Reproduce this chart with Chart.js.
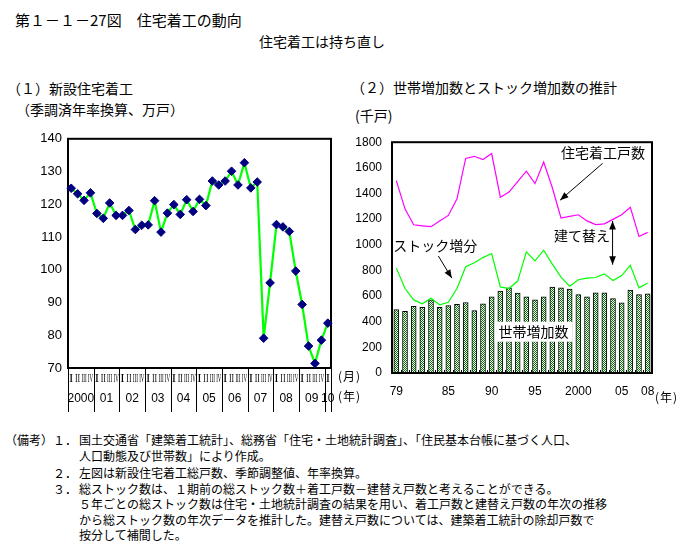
<!DOCTYPE html>
<html><head><meta charset="utf-8">
<script src="https://cdn.jsdelivr.net/npm/chart.js@4.4.1/dist/chart.umd.min.js"></script>
<style>
body{margin:0;background:#fff;}
#wrap{position:relative;width:691px;height:551px;overflow:hidden;font-family:"Noto Sans CJK JP",sans-serif;color:#000;background:#fff;}
.t{position:absolute;white-space:nowrap;line-height:1;}
canvas{position:absolute;}
</style></head><body><div id="wrap">
<canvas id="c1" width="310" height="290" style="left:30px;top:125px;"></canvas>
<canvas id="c2" width="341" height="290" style="left:350px;top:125px;"></canvas>
</div>
<script>
// ---------- data: left chart (quarterly, 2000Q1 - 2010Q1) ----------
const quarterYears = ['2000','01','02','03','04','05','06','07','08','09','10'];
const quarterNames = ['I','II','III','IV'];
const housingStartsQ = [124.9,123.2,121.2,123.5, 117.2,115.7,120.4,116.6, 116.6,118.1,112.3,113.6,
  113.7,121.1,111.5,117.3, 119.9,116.9,121.4,117.8, 121.5,119.6,127.1,125.9, 127.1,130.1,125.9,132.7,
  125.0,126.8,79.1,96.0, 113.8,113.1,111.7,99.6, 89.4,76.7,71.4,78.5, 83.7];

// ---------- data: right chart (annual, 1979 - 2008, thousand units) ----------
const stockYears = [1979,1980,1981,1982,1983,1984,1985,1986,1987,1988,1989,1990,1991,1992,1993,
  1994,1995,1996,1997,1998,1999,2000,2001,2002,2003,2004,2005,2006,2007,2008];
const householdIncrease = [494,481,519,512,570,512,525,535,550,487,540,595,639,664,624,
  595,570,595,671,664,654,611,595,626,626,580,548,646,611,618];
const housingStartsA = [1500,1280,1156,1148,1141,1186,1229,1358,1673,1690,1665,1711,1371,1411,1493,
  1574,1477,1645,1445,1209,1221,1234,1186,1158,1163,1198,1234,1293,1065,1097];
const stockIncrease = [818,659,570,540,583,532,552,659,829,860,900,932,671,659,717,
  945,874,958,849,748,677,727,740,745,773,722,760,840,664,702];
const tickYears = [1979,1985,1990,1995,2000,2005,2008];
const tickText  = ['79','85','90','95','2000','05','08'];

// ---------- static texts ----------
const texts = [
  ['第１－１－27図　住宅着工の動向', 15, 15, 20],
  ['住宅着工は持ち直し', 259, 14, 42],
  ['（１）新設住宅着工', 7, 14, 89],
  ['（季調済年率換算、万戸）', 16, 14, 110],
  ['（２）世帯増加数とストック増加数の推計', 351, 14, 88],
  ['(千戸)', 355, 14, 116],
  ['(月)', 338, 12, 377],
  ['(年)', 338, 12, 397],
  ['(年)', 655, 12, 398],
  ['（備考）', 5, 12, 441],
  ['１．', 53, 12, 441],
  ['国土交通省「建築着工統計」、総務省「住宅・土地統計調査」、「住民基本台帳に基づく人口、', 79, 12, 441],
  ['人口動態及び世帯数」により作成。', 79, 12, 457],
  ['２．', 53, 12, 474],
  ['左図は新設住宅着工総戸数、季節調整値、年率換算。', 79, 12, 474],
  ['３．', 53, 12, 490],
  ['総ストック数は、１期前の総ストック数＋着工戸数－建替え戸数と考えることができる。', 79, 12, 490],
  ['５年ごとの総ストック数は住宅・土地統計調査の結果を用い、着工戸数と建替え戸数の年次の推移', 79, 12, 505],
  ['から総ストック数の年次データを推計した。建替え戸数については、建築着工統計の除却戸数で', 79, 12, 521],
  ['按分して補間した。', 79, 12, 536]
];
const wrap = document.getElementById('wrap');
texts.forEach(([s,x,size,cy])=>{
  const d=document.createElement('div'); d.className='t'; d.textContent=s;
  d.style.left=x+'px'; d.style.fontSize=size+'px'; d.style.top=(cy-0.56*size)+'px';
  if (s.length===3 && s[0]==='(') d.style.letterSpacing='1px';
  wrap.appendChild(d);
});

// ---------- left chart ----------
const qLabels = housingStartsQ.map((_,i)=>quarterYears[Math.floor(i/4)]+'-'+quarterNames[i%4]);
const leftPlugin = {
  id:'leftDeco',
  beforeDatasetsDraw(chart){
    const {ctx, chartArea:a} = chart;
    ctx.save(); ctx.strokeStyle='#000'; ctx.lineWidth=2;
    ctx.strokeRect(a.left,a.top,a.right-a.left,a.bottom-a.top); ctx.restore();
  },
  afterDraw(chart){
    const {ctx, chartArea:a} = chart; const xs = chart.scales.x; const n = housingStartsQ.length;
    ctx.save(); ctx.strokeStyle='#000'; ctx.lineWidth=1; ctx.fillStyle='#000';
    for (let y=0; y<quarterYears.length; y++){
      const s = y*4, e = Math.min(y*4+3, n-1);
      const x0 = Math.round(xs.getPixelForValue(s-0.5))+0.5;
      ctx.beginPath(); ctx.moveTo(x0,a.bottom); ctx.lineTo(x0,a.bottom+44); ctx.stroke();
      const xc = (xs.getPixelForValue(s-0.5)+xs.getPixelForValue(e+0.5))/2;
      ctx.font='12px "Liberation Sans"'; ctx.textAlign='center'; ctx.textBaseline='middle';
      ctx.fillText(quarterYears[y], xc, a.bottom+31);
    }
    const xr = Math.round(xs.getPixelForValue(n-0.5))+0.5;
    ctx.beginPath(); ctx.moveTo(xr,a.bottom); ctx.lineTo(xr,a.bottom+44); ctx.stroke();
    ctx.font='13px "Liberation Serif"'; ctx.textBaseline='middle'; ctx.textAlign='center';
    for (let i=0;i<n;i++){
      const lab = quarterNames[i%4]; const w = ctx.measureText(lab).width;
      const sc = Math.min(1, 5.2/w); const xc = xs.getPixelForValue(i);
      ctx.save(); ctx.translate(xc, a.bottom+11); ctx.scale(sc,1); ctx.fillText(lab,0,0); ctx.restore();
    }
    ctx.restore();
  }
};
new Chart(document.getElementById('c1'), {
  type:'line',
  data:{labels:qLabels, datasets:[{data:housingStartsQ, borderColor:'#00ff00', borderWidth:2.2,
    pointStyle:'rectRot', pointRadius:4.3, pointBackgroundColor:'#000080', pointBorderColor:'#000080',
    pointBorderWidth:1, tension:0, clip:false}]},
  options:{responsive:false, animation:false, events:[],
    layout:{padding:{left:0,top:12,right:9,bottom:0}},
    plugins:{legend:{display:false}, tooltip:{enabled:false}},
    scales:{
      x:{type:'category', offset:true, grid:{display:false, drawTicks:false}, border:{display:false},
         ticks:{display:false}, afterFit(s){s.height=47;}},
      y:{min:70, max:140, grid:{display:false, drawTicks:false}, border:{display:false},
         ticks:{stepSize:10, padding:6, color:'#000', font:{family:'Liberation Sans', size:13},
           callback:(v)=>String(v)},
         afterFit(s){s.width=38;}}
    }},
  plugins:[leftPlugin]
});

// ---------- right chart ----------
const pc=document.createElement('canvas'); pc.width=2; pc.height=2;
const pctx=pc.getContext('2d'); pctx.fillStyle='#007800'; pctx.fillRect(0,0,2,2);
pctx.fillStyle='#ffffff'; pctx.fillRect(0,0,1,1); pctx.fillRect(1,1,1,1);
const barPattern = pctx.createPattern(pc,'repeat');

const annotations = [
  {type:'text', text:'住宅着工戸数', i:19.0, v:1716},
  {type:'text', text:'建て替え', i:18.2, v:1074},
  {type:'text', text:'ストック増分', i:-0.35, v:991},
  {type:'boxtext', text:'世帯増加数', i:11.8, v:322},
  {type:'arrow', i1:23.8, v1:1635, i2:18.9, v2:1348},
  {type:'arrow', i1:4.85, v1:912, i2:6.4, v2:740},
  {type:'darrow', i1:24.95, v1:1185, i2:24.95, v2:845}
];
function head(ctx,x1,y1,x2,y2,len){
  const a=Math.atan2(y2-y1,x2-x1);
  ctx.beginPath(); ctx.moveTo(x2,y2);
  ctx.lineTo(x2-len*Math.cos(a-0.38), y2-len*Math.sin(a-0.38));
  ctx.lineTo(x2-len*Math.cos(a+0.38), y2-len*Math.sin(a+0.38));
  ctx.closePath(); ctx.fill();
}
const rightPlugin = {
  id:'rightDeco',
  afterDatasetsDraw(chart){
    const {ctx, chartArea:a} = chart; const xs=chart.scales.x, ys=chart.scales.y;
    ctx.save(); ctx.strokeStyle='#000'; ctx.lineWidth=1;
    for (let i=1;i<stockYears.length;i++){
      const x=Math.round(xs.getPixelForValue(i-0.5))+0.5;
      ctx.beginPath(); ctx.moveTo(x,a.bottom); ctx.lineTo(x,a.bottom-3); ctx.stroke();
    }
    ctx.lineWidth=2; ctx.strokeRect(a.left,a.top,a.right-a.left,a.bottom-a.top);
    ctx.fillStyle='#000'; ctx.lineWidth=1;
    ctx.font='14px "Noto Sans CJK JP"'; ctx.textBaseline='middle'; ctx.textAlign='left';
    annotations.forEach(an=>{
      if (an.type==='text' || an.type==='boxtext'){
        const x=xs.getPixelForValue(an.i), y=ys.getPixelForValue(an.v);
        if (an.type==='boxtext'){
          const w=ctx.measureText(an.text).width;
          ctx.fillStyle='#fff'; ctx.fillRect(x-4,y-10,w+8,20); ctx.fillStyle='#000';
        }
        ctx.fillText(an.text,x,y);
      } else {
        const x1=xs.getPixelForValue(an.i1), y1=ys.getPixelForValue(an.v1);
        const x2=xs.getPixelForValue(an.i2), y2=ys.getPixelForValue(an.v2);
        ctx.beginPath(); ctx.moveTo(x1,y1); ctx.lineTo(x2,y2); ctx.stroke();
        head(ctx,x1,y1,x2,y2,9);
        if (an.type==='darrow') head(ctx,x2,y2,x1,y1,9);
      }
    });
    ctx.restore();
  }
};
new Chart(document.getElementById('c2'), {
  type:'bar',
  data:{labels:stockYears.map(String), datasets:[
    {type:'line', data:housingStartsA, borderColor:'#ff00ff', borderWidth:1.2, pointRadius:0, tension:0, order:1},
    {type:'line', data:stockIncrease, borderColor:'#00ff00', borderWidth:1.2, pointRadius:0, tension:0, order:1},
    {type:'bar', data:householdIncrease, backgroundColor:barPattern, borderColor:'#000', borderWidth:1,
     barThickness:5, order:2}
  ]},
  options:{responsive:false, animation:false, events:[],
    layout:{padding:{left:0,top:12,right:39,bottom:0}},
    plugins:{legend:{display:false}, tooltip:{enabled:false}},
    scales:{
      x:{grid:{display:false, drawTicks:false}, border:{display:false},
         ticks:{autoSkip:false, maxRotation:0, padding:11, color:'#000', font:{family:'Liberation Sans', size:12},
           callback:(v,i)=>{const k=tickYears.indexOf(stockYears[i]); return k>=0?tickText[k]:'';}},
         afterFit(s){s.height=42;}},
      y:{min:0, max:1800, grid:{display:false, drawTicks:false}, border:{display:false},
         ticks:{stepSize:200, padding:10, color:'#000', font:{family:'Liberation Sans', size:12},
           callback:(v)=>String(v)},
         afterFit(s){s.width=42;}}
    }},
  plugins:[rightPlugin]
});
</script>
</body></html>
